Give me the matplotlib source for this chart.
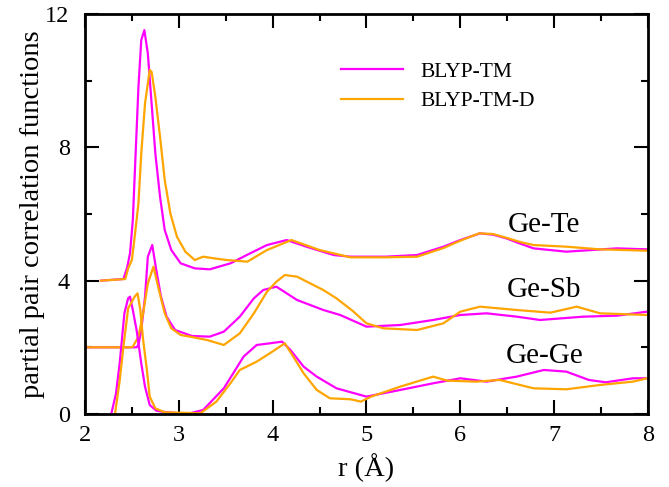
import matplotlib
matplotlib.use('Agg')
from matplotlib import pyplot as plt
from matplotlib.ticker import MultipleLocator

# 曲线数据（已含偏移：Ge-Te +4，Ge-Sb +2）
r_te_tm = [2.17, 2.41, 2.45, 2.48, 2.51, 2.54, 2.57, 2.60, 2.633, 2.67, 2.71, 2.75, 2.80, 2.85, 2.92, 3.02,
           3.17, 3.33, 3.55, 3.76, 3.94, 4.15, 4.36, 4.65, 4.83, 5.20, 5.54, 5.82, 6.00, 6.21, 6.35, 6.49,
           6.65, 6.78, 7.13, 7.40, 7.67, 7.99]
g_te_tm = [4.00, 4.05, 4.40, 4.82, 5.82, 7.82, 9.82, 11.22, 11.52, 10.82, 9.32, 7.82, 6.52, 5.52, 4.92, 4.52,
           4.37, 4.34, 4.52, 4.82, 5.07, 5.22, 5.02, 4.77, 4.72, 4.72, 4.77, 5.02, 5.22, 5.42, 5.38, 5.27,
           5.10, 4.97, 4.87, 4.92, 4.97, 4.94]

r_te_d = [2.17, 2.43, 2.46, 2.50, 2.53, 2.57, 2.60, 2.64, 2.69, 2.71, 2.75, 2.80, 2.85, 2.91, 2.98, 3.07,
          3.17, 3.26, 3.40, 3.51, 3.73, 3.94, 4.20, 4.30, 4.50, 4.83, 5.20, 5.54, 5.82, 6.00, 6.20, 6.35,
          6.50, 6.65, 6.78, 7.13, 7.49, 7.99]
g_te_d = [4.00, 4.05, 4.37, 4.62, 5.32, 6.32, 7.82, 9.32, 10.32, 10.27, 9.52, 8.32, 7.02, 6.02, 5.32, 4.87,
          4.62, 4.72, 4.66, 4.62, 4.57, 4.92, 5.22, 5.12, 4.92, 4.70, 4.70, 4.72, 4.98, 5.20, 5.42, 5.40,
          5.28, 5.15, 5.07, 5.02, 4.94, 4.90]

r_sb_tm = [2.00, 2.55, 2.57, 2.60, 2.64, 2.67, 2.717, 2.76, 2.81, 2.87, 2.96, 3.14, 3.33, 3.48, 3.65, 3.80,
           3.90, 4.04, 4.15, 4.26, 4.40, 4.54, 4.72, 5.00, 5.36, 5.71, 6.00, 6.28, 6.60, 6.85, 7.31, 7.67, 7.99]
g_sb_tm = [2.00, 2.00, 2.07, 2.52, 3.52, 4.72, 5.07, 4.32, 3.52, 2.92, 2.52, 2.34, 2.32, 2.47, 2.92, 3.47,
           3.72, 3.82, 3.62, 3.42, 3.27, 3.12, 2.97, 2.62, 2.67, 2.82, 2.97, 3.02, 2.92, 2.82, 2.92, 2.95, 3.07]

r_sb_d = [2.00, 2.49, 2.51, 2.57, 2.62, 2.67, 2.73, 2.78, 2.85, 2.92, 3.02, 3.12, 3.30, 3.48, 3.65, 3.80,
          3.94, 4.04, 4.13, 4.26, 4.40, 4.54, 4.68, 4.85, 5.00, 5.18, 5.54, 5.82, 6.00, 6.21, 6.60, 6.96,
          7.24, 7.49, 7.99]
g_sb_d = [2.00, 2.00, 2.02, 2.32, 3.02, 3.92, 4.42, 3.82, 3.02, 2.57, 2.37, 2.32, 2.22, 2.07, 2.42, 3.02,
          3.67, 3.97, 4.17, 4.12, 3.92, 3.72, 3.47, 3.10, 2.72, 2.57, 2.52, 2.72, 3.07, 3.22, 3.12, 3.04,
          3.22, 3.02, 2.97]

r_ge_tm = [2.28, 2.33, 2.37, 2.42, 2.46, 2.48, 2.51, 2.55, 2.60, 2.64, 2.69, 2.76, 2.82, 3.00, 3.12, 3.26,
           3.48, 3.58, 3.69, 3.83, 3.97, 4.10, 4.19, 4.33, 4.47, 4.68, 5.00, 5.36, 5.71, 6.00, 6.28, 6.60,
           6.89, 7.13, 7.37, 7.55, 7.84, 7.99]
g_ge_tm = [0.00, 0.60, 1.52, 3.02, 3.47, 3.52, 3.12, 2.52, 1.52, 0.82, 0.27, 0.10, 0.07, 0.02, 0.02, 0.12,
           0.77, 1.22, 1.72, 2.07, 2.12, 2.17, 1.92, 1.42, 1.12, 0.77, 0.52, 0.72, 0.92, 1.07, 0.97, 1.12,
           1.32, 1.27, 1.02, 0.95, 1.07, 1.07]

r_ge_d = [2.32, 2.37, 2.41, 2.46, 2.53, 2.56, 2.59, 2.62, 2.66, 2.69, 2.75, 2.85, 3.23, 3.40, 3.55, 3.65,
          3.83, 3.97, 4.13, 4.22, 4.33, 4.47, 4.61, 4.83, 4.94, 5.05, 5.36, 5.71, 5.86, 6.17, 6.42, 6.78,
          7.13, 7.49, 7.84, 7.99]
g_ge_d = [0.00, 1.00, 2.02, 3.17, 3.52, 3.62, 3.12, 2.22, 1.32, 0.52, 0.17, 0.05, 0.02, 0.37, 0.92, 1.32,
          1.57, 1.82, 2.12, 1.72, 1.22, 0.72, 0.47, 0.44, 0.37, 0.52, 0.82, 1.12, 1.00, 0.97, 1.02, 0.77,
          0.74, 0.87, 0.97, 1.07]

curve_names = ['Ge-Te', 'Ge-Sb', 'Ge-Ge']
label_pos = [(6.89, 5.46), (6.89, 3.52), (6.90, 1.52)]

plt.rcParams['font.family'] = ['Liberation Serif', 'DejaVu Serif']

fig = plt.figure(figsize=(6.69, 4.87), dpi=100)
ax = fig.add_axes([0.127, 0.150, 0.8416, 0.821])

c_tm = '#ff00ff'
c_d = '#ffa500'
lw = 1.6
ax.plot(r_te_tm, g_te_tm, color=c_tm, lw=lw, label='BLYP-TM')
ax.plot(r_te_d, g_te_d, color=c_d, lw=lw, label='BLYP-TM-D')
ax.plot(r_sb_tm, g_sb_tm, color=c_tm, lw=lw)
ax.plot(r_sb_d, g_sb_d, color=c_d, lw=lw)
ax.plot(r_ge_tm, g_ge_tm, color=c_tm, lw=lw)
ax.plot(r_ge_d, g_ge_d, color=c_d, lw=lw)

for name, (x, y) in zip(curve_names, label_pos):
    ax.text(x, y, name, fontsize=21, ha='center', va='baseline')

ax.set_xlim(2, 8)
ax.set_ylim(0, 12)
ax.xaxis.set_major_locator(MultipleLocator(1))
ax.xaxis.set_minor_locator(MultipleLocator(0.5))
ax.yaxis.set_major_locator(MultipleLocator(4))
ax.yaxis.set_minor_locator(MultipleLocator(2))
ax.tick_params(which='both', direction='in', top=True, right=True, width=1.5, labelsize=17.5)
ax.tick_params(which='major', length=10)
ax.tick_params(which='minor', length=5)
ax.tick_params(axis='x', which='major', pad=8)
ax.tick_params(axis='y', which='major', pad=11)
for s in ax.spines.values():
    s.set_linewidth(2)

ax.set_xlabel('r (Å)', fontsize=20.5, labelpad=5)
ax.set_ylabel('partial pair correlation functions', fontsize=20.5, labelpad=0)

ax.legend(loc='upper left', bbox_to_anchor=(0.42, 0.93), frameon=False, fontsize=15.5,
          handlelength=2.9, handletextpad=0.8, labelspacing=0.45)

fig.savefig('out.png', dpi=100)
